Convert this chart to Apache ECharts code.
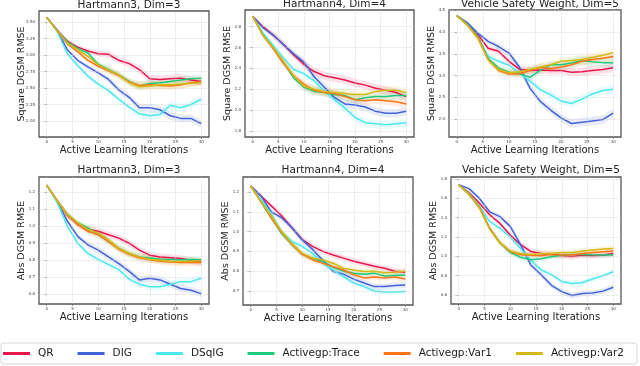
<!DOCTYPE html>
<html><head><meta charset="utf-8">
<script src="https://cdn.jsdelivr.net/npm/echarts@6/dist/echarts.min.js"></script>
<style>html,body{margin:0;padding:0;background:#fff}#c{width:640px;height:366px}</style>
</head><body><div id="c"></div>
<script>
const iterations = [0,2,4,6,8,10,12,14,16,18,20,22,24,26,28,30];
const methods = ['QR','DIG','DSqIG','Activegp:Trace','Activegp:Var1','Activegp:Var2'];
const methodColors = ['#E8174C','#4363D8','#4CE8EE','#1DC97A','#FF7417','#D4B816'];
const xTicks = [0,5,10,15,20,25,30];

// rows follow the order of `methods`
const sqHartmann3 = [
  [3.57,3.38,3.21,3.12,3.06,3.02,3.01,2.92,2.87,2.78,2.64,2.63,2.64,2.65,2.62,2.60],
  [3.57,3.38,3.08,2.92,2.82,2.73,2.63,2.47,2.36,2.20,2.20,2.17,2.08,2.04,2.04,1.96],
  [3.57,3.36,3.02,2.84,2.68,2.56,2.46,2.33,2.21,2.11,2.08,2.10,2.24,2.20,2.25,2.33],
  [3.57,3.37,3.20,3.10,3.03,2.86,2.78,2.70,2.60,2.53,2.57,2.58,2.60,2.62,2.64,2.65],
  [3.57,3.37,3.17,3.05,2.92,2.83,2.76,2.69,2.59,2.54,2.55,2.54,2.53,2.55,2.58,2.60],
  [3.57,3.37,3.18,3.08,2.98,2.85,2.77,2.70,2.58,2.52,2.53,2.55,2.55,2.56,2.57,2.58]
];
const sqHartmann3Band = [0,0.02,0.03,0.03,0.04,0.04,0.05,0.05,0.05,0.06,0.06,0.06,0.06,0.06,0.06,0.06];
const sqHartmann3Ticks = [2.00,2.25,2.50,2.75,3.00,3.25,3.50];

const sqHartmann4 = [
  [2.90,2.80,2.72,2.63,2.53,2.44,2.37,2.33,2.31,2.29,2.26,2.24,2.21,2.19,2.17,2.13],
  [2.90,2.79,2.72,2.63,2.54,2.46,2.32,2.22,2.12,2.06,2.05,2.03,1.99,1.97,1.97,1.99],
  [2.90,2.74,2.62,2.50,2.39,2.35,2.28,2.18,2.10,2.02,1.93,1.88,1.87,1.86,1.87,1.88],
  [2.90,2.72,2.60,2.46,2.31,2.22,2.18,2.17,2.15,2.14,2.10,2.12,2.13,2.13,2.14,2.14],
  [2.90,2.72,2.59,2.45,2.33,2.25,2.19,2.17,2.16,2.13,2.10,2.09,2.10,2.09,2.08,2.06],
  [2.90,2.72,2.60,2.47,2.33,2.23,2.20,2.18,2.17,2.16,2.15,2.15,2.18,2.19,2.19,2.17]
];
const sqHartmann4Band = [0,0.02,0.03,0.03,0.03,0.04,0.04,0.04,0.04,0.04,0.04,0.04,0.04,0.04,0.04,0.04];
const sqHartmann4Ticks = [1.8,2.0,2.2,2.4,2.6,2.8];

const sqVehicle = [
  [4.38,4.19,3.95,3.63,3.56,3.33,3.15,3.12,3.13,3.12,3.12,3.08,3.09,3.12,3.14,3.18],
  [4.38,4.22,3.98,3.79,3.67,3.52,3.20,2.72,2.41,2.21,2.03,1.90,1.93,1.96,1.99,2.14],
  [4.38,4.18,3.90,3.45,3.33,3.24,3.06,2.88,2.68,2.56,2.42,2.36,2.46,2.58,2.66,2.69],
  [4.38,4.18,3.90,3.40,3.18,3.08,3.05,2.96,3.12,3.25,3.25,3.29,3.35,3.32,3.30,3.30],
  [4.38,4.17,3.88,3.38,3.12,3.04,3.04,3.12,3.19,3.16,3.20,3.25,3.33,3.37,3.40,3.44],
  [4.38,4.16,3.86,3.36,3.14,3.07,3.09,3.14,3.20,3.25,3.33,3.35,3.37,3.42,3.47,3.53]
];
const sqVehicleBand = [0,0.03,0.05,0.06,0.07,0.08,0.08,0.08,0.09,0.09,0.09,0.09,0.1,0.1,0.1,0.1];
const sqVehicleTicks = [2.0,2.5,3.0,3.5,4.0,4.5];

const absHartmann3 = [
  [1.24,1.15,1.07,1.01,0.98,0.97,0.95,0.93,0.90,0.86,0.83,0.82,0.815,0.81,0.80,0.79],
  [1.24,1.15,1.03,0.94,0.89,0.86,0.82,0.78,0.735,0.685,0.695,0.685,0.66,0.635,0.625,0.605],
  [1.24,1.14,1.00,0.90,0.84,0.805,0.775,0.745,0.69,0.66,0.645,0.645,0.66,0.675,0.675,0.695],
  [1.24,1.15,1.07,1.02,0.99,0.95,0.91,0.87,0.84,0.82,0.813,0.806,0.805,0.803,0.805,0.803],
  [1.24,1.15,1.06,1.01,0.97,0.95,0.91,0.865,0.835,0.815,0.803,0.795,0.79,0.787,0.787,0.787],
  [1.24,1.15,1.07,1.02,0.98,0.96,0.92,0.87,0.84,0.82,0.805,0.80,0.795,0.793,0.795,0.797]
];
const absHartmann3Band = [0,0.01,0.015,0.015,0.02,0.02,0.02,0.02,0.02,0.02,0.02,0.02,0.02,0.02,0.02,0.02];
const absHartmann3Ticks = [0.6,0.7,0.8,0.9,1.0,1.1,1.2];

const absHartmann4 = [
  [1.23,1.18,1.13,1.08,1.02,0.96,0.925,0.90,0.882,0.866,0.85,0.838,0.825,0.815,0.80,0.795],
  [1.23,1.18,1.10,1.07,1.02,0.958,0.91,0.855,0.80,0.785,0.76,0.74,0.722,0.722,0.727,0.73],
  [1.23,1.16,1.09,1.00,0.95,0.925,0.89,0.84,0.806,0.773,0.74,0.722,0.70,0.695,0.695,0.697],
  [1.23,1.15,1.07,0.99,0.935,0.885,0.865,0.85,0.82,0.80,0.79,0.785,0.79,0.775,0.778,0.781],
  [1.23,1.15,1.07,0.995,0.935,0.885,0.858,0.84,0.823,0.806,0.782,0.766,0.77,0.766,0.77,0.76],
  [1.23,1.15,1.08,1.00,0.94,0.89,0.866,0.857,0.84,0.815,0.806,0.798,0.80,0.792,0.795,0.80]
];
const absHartmann4Band = [0,0.01,0.012,0.015,0.015,0.015,0.015,0.015,0.015,0.015,0.015,0.015,0.015,0.015,0.015,0.015];
const absHartmann4Ticks = [0.7,0.8,0.9,1.0,1.1,1.2];

const absVehicle = [
  [1.74,1.66,1.55,1.43,1.34,1.22,1.12,1.05,1.03,1.02,1.007,0.997,1.01,1.007,1.01,1.03],
  [1.74,1.70,1.60,1.46,1.41,1.31,1.12,0.91,0.81,0.70,0.635,0.595,0.615,0.62,0.64,0.68],
  [1.74,1.65,1.52,1.36,1.29,1.20,1.08,0.96,0.86,0.81,0.74,0.72,0.73,0.765,0.80,0.84],
  [1.74,1.64,1.51,1.29,1.14,1.04,0.99,0.965,0.975,0.995,1.01,1.02,1.02,1.015,1.014,1.014],
  [1.74,1.64,1.51,1.29,1.14,1.05,1.015,1.01,1.007,1.02,1.014,1.014,1.03,1.04,1.048,1.055],
  [1.74,1.64,1.50,1.28,1.14,1.055,1.03,1.02,1.03,1.03,1.04,1.04,1.055,1.065,1.075,1.08]
];
const absVehicleBand = [0,0.015,0.02,0.025,0.025,0.03,0.03,0.03,0.03,0.03,0.03,0.03,0.03,0.03,0.03,0.03];
const absVehicleTicks = [0.6,0.8,1.0,1.2,1.4,1.6,1.8];

const titles = ['Hartmann3, Dim=3','Hartmann4, Dim=4','Vehicle Safety Weight, Dim=5',
                'Hartmann3, Dim=3','Hartmann4, Dim=4','Vehicle Safety Weight, Dim=5'];
const yNames = ['Square DGSM RMSE','Square DGSM RMSE','Square DGSM RMSE',
                'Abs DGSM RMSE','Abs DGSM RMSE','Abs DGSM RMSE'];
const xName = 'Active Learning Iterations';

// layout (pixels / axis extents)
const panels = [
  {data:sqHartmann3, band:sqHartmann3Band, ticks:sqHartmann3Ticks, dec:2, box:[39,11,170,126], y:[1.758,3.667]},
  {data:sqHartmann4, band:sqHartmann4Band, ticks:sqHartmann4Ticks, dec:1, box:[245,10,169,127], y:[1.743,2.96]},
  {data:sqVehicle,   band:sqVehicleBand,   ticks:sqVehicleTicks,   dec:1, box:[449,10,172,127], y:[1.59,4.51]},
  {data:absHartmann3,band:absHartmann3Band,ticks:absHartmann3Ticks,dec:1, box:[39,177,170,127], y:[0.544,1.288]},
  {data:absHartmann4,band:absHartmann4Band,ticks:absHartmann4Ticks,dec:1, box:[243,177,170,128], y:[0.629,1.276]},
  {data:absVehicle,  band:absVehicleBand,  ticks:absVehicleTicks,  dec:1, box:[451,177,170,127], y:[0.507,1.82]}
];

function rgba(hex,a){const n=parseInt(hex.slice(1),16);return `rgba(${n>>16&255},${n>>8&255},${n&255},${a})`;}
const FONT = 'DejaVu Sans';
const grid=[],xAxis=[],yAxis=[],series=[],title=[];
panels.forEach((p,k)=>{
  const [l,t,w,h]=p.box;
  grid.push({left:l,top:t,width:w,height:h,show:true,borderColor:'#555',borderWidth:1.3,backgroundColor:'#fff'});
  title.push({text:titles[k],left:l+w/2,top:t-(k<3?16:17),textAlign:'center',
    textStyle:{fontFamily:FONT,fontSize:10.5,fontWeight:'normal',color:'#222'}});
  xAxis.push({type:'value',gridIndex:k,min:-1.5,max:31.5,
    axisLine:{show:false},splitLine:{show:false},
    axisTick:{show:true,customValues:xTicks,length:2,lineStyle:{color:'#555',width:0.6}},
    axisLabel:{customValues:xTicks,fontSize:4,margin:3,color:'#444',fontFamily:FONT},
    name:xName,nameLocation:'middle',nameGap:8,nameMoveOverlap:false,
    nameTextStyle:{fontFamily:FONT,fontSize:10,color:'#222'}});
  yAxis.push({type:'value',gridIndex:k,min:p.y[0],max:p.y[1],
    axisLine:{show:false},splitLine:{show:false},
    axisTick:{show:true,customValues:p.ticks,length:2,lineStyle:{color:'#555',width:0.6}},
    axisLabel:{customValues:p.ticks,fontSize:4,margin:4,color:'#444',fontFamily:FONT,
      formatter:v=>Number(v).toFixed(p.dec)},
    name:yNames[k],nameLocation:'middle',nameGap:12,nameRotate:90,nameMoveOverlap:false,
    nameTextStyle:{fontFamily:FONT,fontSize:9.5,color:'#222'}});
  // dotted grid lines through the axis scales
  series.push({type:'line',name:'_grid'+k,xAxisIndex:k,yAxisIndex:k,data:[[0,p.ticks[0]]],
    showSymbol:false,lineStyle:{width:0},silent:true,z:0,
    markLine:{silent:true,symbol:['none','none'],label:{show:false},animation:false,
      lineStyle:{type:'dotted',color:'#d0d0d0',width:0.7},
      data:p.ticks.map(v=>({yAxis:v})).concat(xTicks.map(v=>({xAxis:v})))}});
  // confidence bands
  p.data.forEach((vals,m)=>{
    series.push({type:'custom',name:'_band'+k+'_'+m,xAxisIndex:k,yAxisIndex:k,silent:true,z:1,
      data:[[iterations[0],vals[0]]],
      renderItem:(params,api)=>{
        const up=[],lo=[];
        iterations.forEach((x,i)=>{up.push(api.coord([x,vals[i]+p.band[i]]));lo.unshift(api.coord([x,vals[i]-p.band[i]]));});
        return {type:'polygon',shape:{points:up.concat(lo)},style:{fill:rgba(methodColors[m],0.13)}};
      }});
  });
  p.data.forEach((vals,m)=>{
    series.push({type:'line',name:methods[m],xAxisIndex:k,yAxisIndex:k,z:2+m,
      data:iterations.map((x,i)=>[x,vals[i]]),showSymbol:false,
      color:methodColors[m],lineStyle:{width:1.5,color:methodColors[m]}});
  });
});

const chart=echarts.init(document.getElementById('c'),null,{renderer:'canvas'});
chart.setOption({
  animation:false,backgroundColor:'#fff',
  title,grid,xAxis,yAxis,series,
  legend:{data:methods,left:1,top:343,icon:'rect',itemWidth:27,itemHeight:3,itemGap:24,
    padding:[5,13,5,2],borderColor:'#d6d6d6',borderWidth:1,borderRadius:3,
    textStyle:{fontFamily:FONT,fontSize:10.5,color:'#222',padding:[0,0,0,3]}}
});
</script></body></html>
